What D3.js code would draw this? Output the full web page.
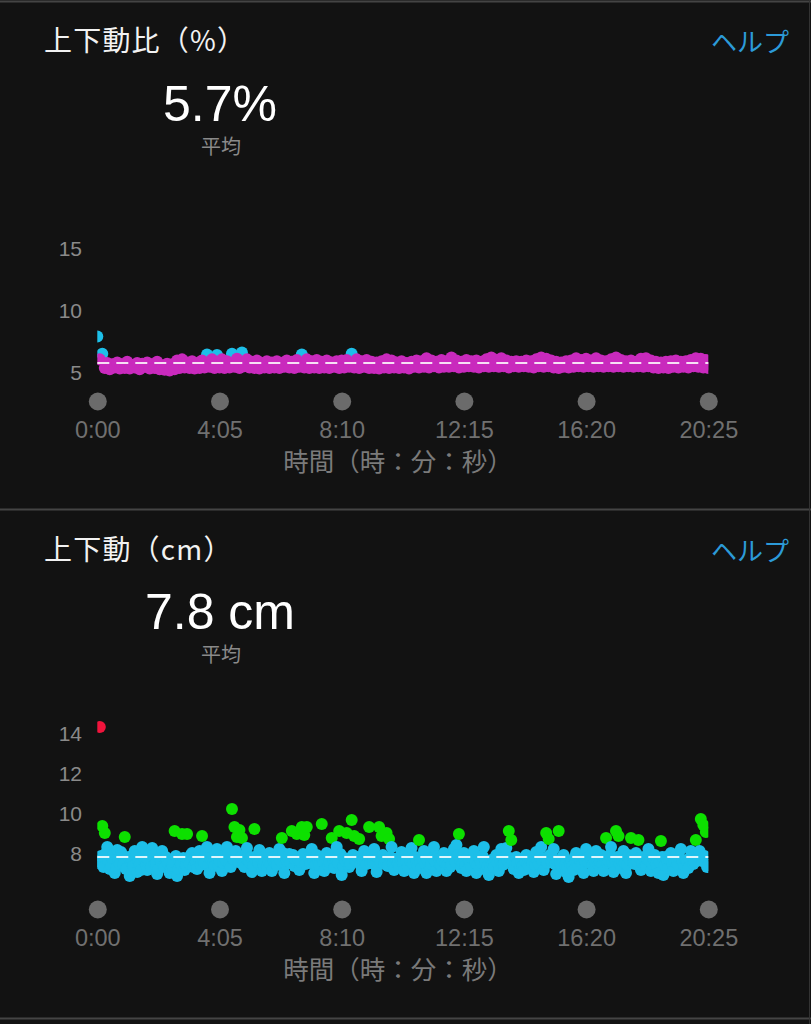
<!DOCTYPE html>
<html><head><meta charset="utf-8">
<script src="https://cdn.jsdelivr.net/npm/d3@7/dist/d3.min.js"></script>
<style>
html,body{margin:0;padding:0;background:#121212;}
svg{display:block;}
</style></head>
<body>
<svg id="c" width="811" height="1024"></svg>
<script>
// ---------- data ----------
const timeTicks = [0, 245, 490, 735, 980, 1225];
const timeTickLabels = ["0:00", "4:05", "8:10", "12:15", "16:20", "20:25"];
const sampleStep = 5; // seconds between samples

const ratioTicks = [5, 10, 15];
const ratioAvg = 5.7;
// samples at t = 0, 5, 10, ... s
const ratioValues = [
 7.85,6.0,6.45,5.3,5.7,5.2,5.6,5.35,5.75,5.25,
 5.6,5.3,5.8,5.25,5.55,5.35,5.7,5.2,5.65,5.4,
 5.75,5.25,5.6,5.3,5.8,5.2,5.5,5.15,5.65,5.1,
 5.6,5.2,5.9,5.3,6.0,5.35,5.75,5.3,5.85,5.25,
 5.7,5.3,5.9,5.35,6.4,5.4,6.0,5.3,6.35,5.35,
 6.0,5.3,5.85,5.35,6.45,5.4,6.05,5.3,6.55,5.45,
 6.0,5.35,5.8,5.3,5.9,5.25,5.7,5.35,5.85,5.3,
 5.75,5.35,5.85,5.3,5.7,5.4,5.9,5.35,5.8,5.3,
 5.95,5.4,6.4,5.35,6.0,5.3,5.85,5.35,5.95,5.3,
 5.8,5.35,5.9,5.3,5.75,5.4,5.85,5.3,5.9,5.35,
 5.95,5.4,6.45,5.35,6.0,5.3,5.85,5.4,5.95,5.3,
 5.8,5.3,5.75,5.25,5.85,5.35,6.0,5.3,5.9,5.35,
 5.75,5.3,5.85,5.35,5.7,5.25,5.8,5.4,5.9,5.35,
 5.85,5.4,6.1,5.35,5.9,5.45,5.8,5.35,5.95,5.4,
 5.85,5.4,6.15,5.45,5.9,5.35,5.8,5.4,5.95,5.45,
 5.85,5.4,5.9,5.35,5.8,5.45,6.0,5.4,6.15,5.45,
 5.95,5.4,6.1,5.45,5.9,5.35,5.8,5.45,5.85,5.4,
 5.8,5.45,5.9,5.4,5.85,5.35,6.0,5.45,6.15,5.4,
 6.05,5.45,5.9,5.35,5.8,5.3,5.75,5.4,5.85,5.35,
 5.9,5.4,6.1,5.45,5.95,5.4,6.05,5.45,5.9,5.4,
 6.1,5.45,5.9,5.4,5.85,5.45,6.0,5.4,6.15,5.45,
 5.95,5.4,5.85,5.45,5.9,5.4,5.8,5.45,6.05,5.4,
 6.1,5.45,5.9,5.35,5.8,5.3,5.75,5.35,5.8,5.3,
 5.85,5.4,5.9,5.35,5.8,5.4,5.85,5.35,5.95,5.45,
 6.1,5.4,6.05,5.35,5.95,5.3
];
const ratioZones = [6.3];                   // threshold
const ratioColors = ["#c92abd", "#1dbfe9"]; // below, above

const oscTicks = [8, 10, 12, 14];
const oscAvg = 7.8;
// samples at t = 0, 5, 10, ... s
const oscValues = [
 7.6,14.3,9.35,9.0,8.3,7.2,7.75,7.0,8.15,7.45,
 7.9,8.8,7.25,6.85,7.65,8.1,7.05,7.45,8.3,7.7,
 7.15,7.95,8.25,7.45,6.95,7.75,8.1,7.3,7.55,7.0,
 7.35,9.1,6.85,7.6,8.95,7.15,8.95,7.45,8.0,7.75,
 7.2,8.1,8.85,7.5,8.3,7.0,7.8,7.35,8.2,7.6,
 7.1,7.9,8.3,7.45,10.2,9.3,8.8,9.15,8.75,7.3,
 8.25,7.55,7.05,9.2,7.85,8.15,7.1,7.6,7.3,8.0,
 7.1,7.8,7.4,8.2,8.75,7.0,7.6,7.95,9.1,7.35,
 8.95,7.15,9.3,8.9,9.3,7.7,8.2,7.0,7.9,7.4,
 9.45,7.1,8.0,7.55,8.75,7.25,8.3,9.1,6.9,7.75,
 9.0,7.3,9.65,8.85,7.6,8.7,7.1,8.1,7.45,9.3,
 7.8,8.2,7.05,9.3,8.85,7.45,9.0,8.7,8.3,7.15,
 7.7,7.3,8.05,7.1,7.55,7.9,8.25,7.0,7.65,8.65,
 7.25,8.1,7.0,7.9,7.45,8.3,7.1,7.7,7.35,8.0,
 7.1,7.75,7.4,8.2,8.4,8.95,7.25,8.0,7.1,7.6,
 7.3,8.1,7.0,7.8,7.5,8.3,7.15,6.9,7.65,7.3,
 7.9,7.1,8.2,7.45,8.25,9.1,8.65,7.2,7.8,7.0,
 7.55,7.15,7.9,7.35,7.75,7.05,8.05,7.45,8.3,7.15,
 9.0,8.7,7.6,8.2,6.95,9.1,7.35,7.9,7.05,6.8,
 7.6,7.15,8.0,7.35,7.8,7.0,8.2,7.5,7.7,7.1,
 8.1,7.4,7.9,7.1,8.75,7.6,8.3,7.05,9.1,8.85,
 7.25,8.1,7.0,7.9,8.75,7.5,8.0,8.65,7.15,7.8,
 7.35,8.2,7.1,7.7,7.45,7.0,8.6,6.9,7.8,7.25,
 8.0,7.1,7.9,7.4,8.2,7.0,7.65,7.25,8.1,7.45,
 8.65,7.8,9.7,9.4,9.05,7.4
];
// in-between samples at t = 2.5, 7.5, 12.5, ... s
const oscValuesHalf = [
 7.5,7.85,7.3,8.0,7.6,7.4,7.95,7.25,7.7,8.05,
 7.45,7.2,7.8,7.55,7.35,7.9,7.6,7.15,7.85,7.4,
 7.65,7.3,7.9,7.5,7.2,7.6,7.35,7.8,7.45,7.25,
 7.55,7.85,7.2,7.45,7.75,7.4,7.65,7.9,7.3,7.55,
 7.8,7.4,7.6,8.0,7.35,7.7,7.5,7.95,7.4,7.85,
 7.5,7.65,7.95,7.3,7.7,8.1,7.55,7.8,7.4,7.95,
 7.6,7.8,7.35,7.65,7.5,7.75,7.4,7.9,7.55,7.45,
 7.6,7.45,7.85,7.6,8.0,7.45,7.75,7.5,7.9,7.65,
 7.7,7.55,7.95,7.45,7.8,7.5,7.65,7.4,7.6,7.8,
 7.55,7.75,7.4,7.9,7.6,7.75,7.5,7.95,7.35,7.6,
 7.7,7.45,7.9,7.6,7.8,7.4,7.65,7.55,7.85,7.5,
 7.6,7.4,7.75,7.55,7.9,7.65,7.35,7.8,7.5,7.7,
 7.45,7.75,7.5,7.9,7.3,7.6,7.45,7.8,7.35,7.55,
 7.7,7.45,7.6,7.3,7.75,7.55,7.85,7.4,7.6,7.5,
 7.45,7.3,7.75,7.55,7.9,7.6,7.5,7.35,7.8,7.45,
 7.7,7.5,7.4,7.6,7.85,7.55,7.35,7.3,7.45,7.75,
 7.5,7.65,7.4,7.85,7.6,7.75,7.55,7.4,7.5,7.3,
 7.35,7.6,7.45,7.7,7.5,7.4,7.65,7.8,7.6,7.75,
 7.5,7.9,7.8,7.45,7.6,7.55,7.75,7.4,7.3,7.5,
 7.35,7.8,7.5,7.65,7.45,7.6,7.75,7.85,7.4,7.6,
 7.65,7.55,7.45,7.8,7.5,7.9,7.55,7.7,7.8,7.45,
 7.6,7.5,7.4,7.65,7.85,7.45,7.55,7.75,7.5,7.35,
 7.7,7.6,7.45,7.9,7.3,7.55,7.8,7.4,7.55,7.65,
 7.45,7.6,7.5,7.75,7.6,7.35,7.5,7.7,7.8,7.55,
 7.9,8.1,7.6,7.85,7.3
];
const oscZones = [8.5, 11.8];
const oscColors = ["#1dbfe9", "#0de000", "#f0143c"];

// ---------- drawing ----------
const svg = d3.select("#c");
const W = 811;
const x = d3.scaleLinear().domain([0, 1225]).range([97.3, 708.3]);
const cjk = "'Noto Sans CJK JP', 'Noto Sans', sans-serif";
const num = "'Liberation Sans', Arial, sans-serif";

// frame lines
[1.5, 509.5, 1018.5].forEach(yy => {
  svg.append("line").attr("x1", 0).attr("x2", W).attr("y1", yy).attr("y2", yy)
    .attr("stroke", "#444").attr("stroke-width", 2);
});
svg.append("line").attr("x1", 809.5).attr("x2", 809.5).attr("y1", 0).attr("y2", 1024)
  .attr("stroke", "#333").attr("stroke-width", 1);

function panel(opt) {
  const g = svg.append("g");
  const y = d3.scaleLinear().domain(opt.yDomain).range(opt.yRange);
  g.append("text").attr("x", 44).attr("y", opt.top + 51)
    .attr("font-family", cjk).attr("font-size", 28).attr("letter-spacing", 1.2)
    .attr("fill", "#f2f2f2").text(opt.title);
  g.append("text").attr("x", 789).attr("y", opt.top + 52).attr("text-anchor", "end")
    .attr("font-family", cjk).attr("font-size", 26).attr("fill", "#2c9ad8")
    .text("ヘルプ");
  g.append("text").attr("x", 220).attr("y", opt.top + opt.bigY).attr("text-anchor", "middle")
    .attr("font-family", num).attr("font-size", 50).attr("fill", "#ffffff")
    .text(opt.big);
  g.append("text").attr("x", 221).attr("y", opt.top + opt.bigY + 33).attr("text-anchor", "middle")
    .attr("font-family", cjk).attr("font-size", 20).attr("fill", "#8a8a8a")
    .text("平均");

  // y axis labels
  const ya = d3.axisLeft(y).tickValues(opt.yTicks).tickSize(0).tickPadding(0)
    .tickFormat(d3.format("d"));
  const yg = g.append("g").attr("transform", "translate(82,0)").call(ya);
  yg.select(".domain").remove();
  yg.selectAll("text").attr("font-family", num).attr("font-size", 21)
    .attr("fill", "#8a8a8a").attr("dy", "0.36em");

  // points
  const clipId = "clip" + opt.top;
  svg.append("clipPath").attr("id", clipId).append("rect")
    .attr("x", x(0)).attr("y", opt.top).attr("width", x(1225) - x(0)).attr("height", 500);
  const colorScale = d3.scaleThreshold().domain(opt.zones).range(opt.colors);
  let data = [];
  opt.series.forEach(s => s.values.forEach((v, i) => data.push({t: s.offset + i * sampleStep, v})));
  data.sort((a, b) => a.t - b.t);
  if (opt.drawOrder) data.sort((a, b) => opt.drawOrder(a) - opt.drawOrder(b));
  g.append("g").attr("clip-path", `url(#${clipId})`).selectAll("circle")
    .data(data).join("circle")
    .attr("cx", d => x(d.t)).attr("cy", d => y(d.v)).attr("r", 6)
    .attr("fill", d => colorScale(d.v));

  // average dashed line
  g.append("line").attr("x1", x(0)).attr("x2", x(1225))
    .attr("y1", y(opt.avg)).attr("y2", y(opt.avg))
    .attr("stroke", "#ffffff").attr("stroke-opacity", 0.85).attr("stroke-width", 2)
    .attr("stroke-dasharray", "12,7");

  // x axis: circles + labels
  const xa = d3.axisBottom(x).tickValues(timeTicks).tickSize(0).tickPadding(0)
    .tickFormat((d, i) => timeTickLabels[i]);
  const xg = g.append("g").attr("transform", `translate(0,${opt.top + opt.tickY})`).call(xa);
  xg.select(".domain").remove();
  xg.selectAll(".tick").append("circle").attr("r", 9).attr("fill", "#6b6b6b");
  xg.selectAll(".tick text").attr("font-family", num).attr("font-size", 23.5)
    .attr("fill", "#707070").attr("y", 28).attr("dy", "0.36em");
  g.append("text").attr("x", 398).attr("y", opt.top + opt.tickY + 69)
    .attr("text-anchor", "middle").attr("font-family", cjk).attr("font-size", 25.5)
    .attr("fill", "#7a7a7a").text("時間（時：分：秒）");
}

panel({
  top: 0, title: "上下動比（%）", big: "5.7%", bigY: 121,
  yDomain: [5, 15], yRange: [371.7, 248.4], yTicks: ratioTicks,
  series: [{values: ratioValues, offset: 0}],
  zones: ratioZones, colors: ratioColors, avg: ratioAvg,
  tickY: 401.5, drawOrder: d => (d.v >= ratioZones[0] ? 0 : 1)
});
panel({
  top: 509, title: "上下動（cm）", big: "7.8 cm", bigY: 120,
  yDomain: [8, 14], yRange: [853, 733], yTicks: oscTicks,
  series: [{values: oscValues, offset: 0}, {values: oscValuesHalf, offset: 2.5}],
  zones: oscZones, colors: oscColors, avg: oscAvg,
  tickY: 400.5, drawOrder: null
});
</script>
</body></html>
